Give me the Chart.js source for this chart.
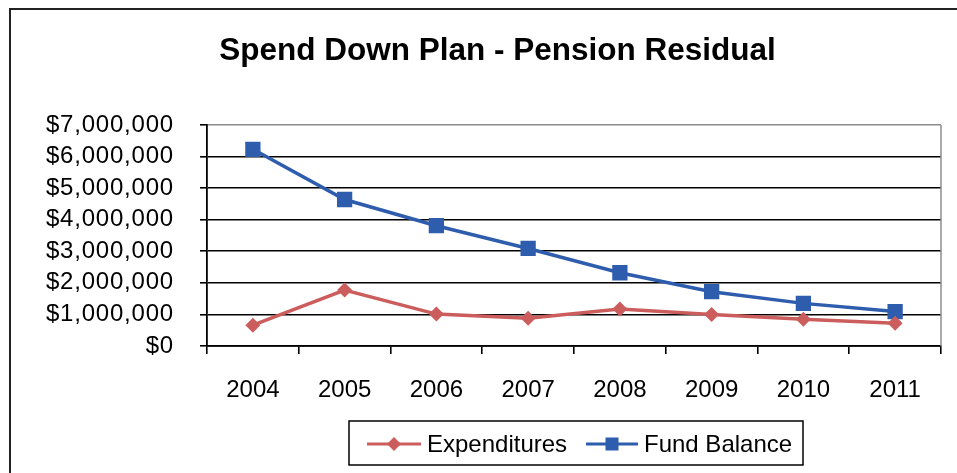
<!DOCTYPE html>
<html>
<head>
<meta charset="utf-8">
<script src="https://cdn.jsdelivr.net/npm/chart.js@4"></script>
<style>
  html, body { margin: 0; padding: 0; background: #fff; }
  #wrap { width: 957px; height: 473px; position: relative; }
</style>
</head>
<body>
<div id="wrap"><canvas id="c" width="957" height="473"></canvas></div>
<script>
const years = ['2004', '2005', '2006', '2007', '2008', '2009', '2010', '2011'];
const expenditures = [660000, 1770000, 1010000, 880000, 1170000, 1000000, 850000, 720000];
const fundBalance = [6230000, 4640000, 3810000, 3090000, 2320000, 1720000, 1350000, 1090000];
const titleText = 'Spend Down Plan - Pension Residual';
const seriesNames = ['Expenditures', 'Fund Balance'];

const RED = '#CB5D5D';
const BLUE = '#2E5DAD';
const FONT = "'Liberation Sans', Arial, sans-serif";

const framePlugin = {
  id: 'frame',
  beforeDraw(chart) {
    const ctx = chart.ctx;
    ctx.save();
    ctx.fillStyle = '#fff';
    ctx.fillRect(0, 0, chart.width, chart.height);
    ctx.strokeStyle = '#222';
    ctx.lineWidth = 2;
    ctx.beginPath();
    ctx.moveTo(10, chart.height);
    ctx.lineTo(10, 9);
    ctx.lineTo(chart.width, 9);
    ctx.stroke();
    // title
    ctx.fillStyle = '#000';
    ctx.font = 'bold 31.5px ' + FONT;
    ctx.textAlign = 'center';
    ctx.textBaseline = 'alphabetic';
    ctx.fillText(titleText, 497.5, 60);
    ctx.restore();
  },
  afterDatasetsDraw(chart) {
    const ctx = chart.ctx;
    const a = chart.chartArea;
    ctx.save();
    ctx.strokeStyle = '#8c8c8c';
    ctx.lineWidth = 1.5;
    ctx.beginPath();
    ctx.moveTo(a.right, a.top);
    ctx.lineTo(a.right, a.bottom);
    ctx.stroke();
    ctx.restore();
  },
  afterDraw(chart) {
    const ctx = chart.ctx;
    ctx.save();
    ctx.strokeStyle = '#000';
    ctx.lineWidth = 1.5;
    ctx.strokeRect(349, 421, 454, 44);
    const items = [
      { x1: 367, x2: 421, tx: 427, ds: chart.data.datasets[0] },
      { x1: 586, x2: 638, tx: 644, ds: chart.data.datasets[1] }
    ];
    const y = 444;
    items.forEach(it => {
      ctx.strokeStyle = it.ds.borderColor;
      ctx.lineWidth = 3;
      ctx.beginPath();
      ctx.moveTo(it.x1, y);
      ctx.lineTo(it.x2, y);
      ctx.stroke();
      const cx = (it.x1 + it.x2) / 2;
      ctx.fillStyle = it.ds.backgroundColor;
      if (it.ds.pointStyle === 'rect') {
        ctx.fillRect(cx - 6.5, y - 6.5, 13, 13);
      } else {
        ctx.beginPath();
        ctx.moveTo(cx, y - 7);
        ctx.lineTo(cx + 7, y);
        ctx.lineTo(cx, y + 7);
        ctx.lineTo(cx - 7, y);
        ctx.closePath();
        ctx.fill();
      }
      ctx.fillStyle = '#000';
      ctx.font = '24px ' + FONT;
      ctx.textBaseline = 'middle';
      ctx.textAlign = 'left';
      ctx.fillText(it.ds.label, it.tx, y + 1);
    });
    ctx.restore();
  }
};

new Chart(document.getElementById('c'), {
  type: 'line',
  data: {
    labels: years,
    datasets: [
      {
        label: seriesNames[0],
        data: expenditures,
        borderColor: RED,
        backgroundColor: RED,
        borderWidth: 3.5,
        pointStyle: 'rectRot',
        pointRadius: 7.5,
        pointBorderWidth: 0,
        pointHoverRadius: 7.5,
        tension: 0
      },
      {
        label: seriesNames[1],
        data: fundBalance,
        borderColor: BLUE,
        backgroundColor: BLUE,
        borderWidth: 3.5,
        pointStyle: 'rect',
        pointRadius: 10.8,
        pointBorderWidth: 0,
        pointHoverRadius: 10.8,
        tension: 0
      }
    ]
  },
  plugins: [framePlugin],
  options: {
    responsive: false,
    animation: false,
    events: [],
    layout: { padding: { left: 10, right: 16, top: 125, bottom: 0 } },
    plugins: {
      legend: { display: false },
      tooltip: { enabled: false },
      title: { display: false }
    },
    scales: {
      x: {
        offset: true,
        afterFit(scale) { scale.height = 127; },
        grid: {
          offset: true,
          drawOnChartArea: false,
          drawTicks: true,
          tickLength: 8,
          color: '#000',
          lineWidth: 1.6
        },
        border: { display: true, color: '#000', width: 1.8 },
        ticks: {
          color: '#000',
          padding: 22,
          autoSkip: false,
          font: { family: FONT, size: 24 },
          maxRotation: 0
        }
      },
      y: {
        min: 0,
        max: 7000000,
        afterFit(scale) {
          scale.width = 207 - 10;
          if (!scale._lsPatched) {
            const orig = scale.drawLabels;
            scale.drawLabels = function (area) {
              this.ctx.save();
              this.ctx.letterSpacing = '0.8px';
              orig.call(this, area);
              this.ctx.restore();
            };
            scale._lsPatched = true;
          }
        },
        grid: {
          color: (c) => (c.tick && c.tick.value === 7000000 ? '#8c8c8c' : '#000'),
          lineWidth: 1.6,
          tickLength: 7,
          tickColor: '#000'
        },
        border: { display: true, color: '#000', width: 1.8 },
        ticks: {
          stepSize: 1000000,
          autoSkip: false,
          color: '#000',
          padding: 26,
          font: { family: FONT, size: 24 },
          callback: (v) => '$' + Number(v).toLocaleString('en-US')
        }
      }
    }
  }
});
</script>
</body>
</html>
